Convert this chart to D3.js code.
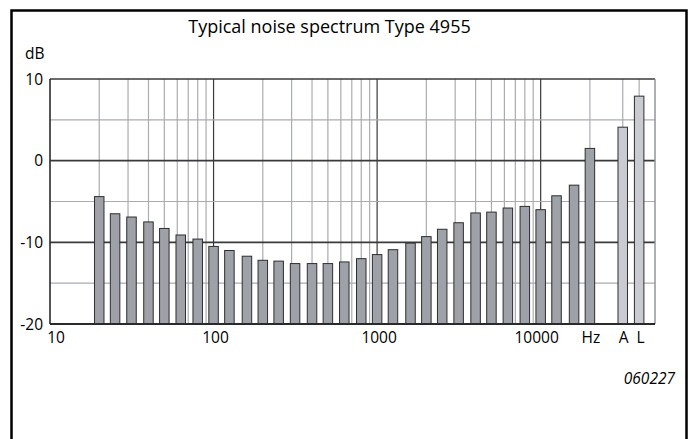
<!DOCTYPE html>
<html>
<head>
<meta charset="utf-8">
<script src="https://cdn.jsdelivr.net/npm/d3@7"></script>
<style>
  body { margin: 0; background: #fff; }
  svg { display: block; font-family: "Open Sans", "DejaVu Sans", sans-serif; }
</style>
</head>
<body>
<svg id="chart"></svg>
<script>
// 1/3 octave band centres (Hz) and noise level (dB)
const bands = [20, 25, 31.5, 40, 50, 63, 80, 100, 125, 160, 200, 250, 315, 400, 500, 630, 800,
               1000, 1250, 1600, 2000, 2500, 3150, 4000, 5000, 6300, 8000, 10000, 12500, 16000, 20000];
const levels = [-4.4, -6.5, -6.9, -7.5, -8.3, -9.1, -9.6, -10.5, -11.0, -11.7, -12.2, -12.3, -12.6, -12.6, -12.6, -12.4, -12.0,
                -11.5, -10.9, -10.1, -9.3, -8.4, -7.6, -6.4, -6.3, -5.8, -5.6, -6.0, -4.3, -3.0, 1.5];
// broadband values
const broadLabels = ["A", "L"];
const broadLevels = [4.1, 7.9];

const yTicks = [-20, -15, -10, -5, 0, 5, 10];
const yLabels = [-20, -10, 0, 10];
const xLabels = [10, 100, 1000, 10000];

const W = 693, H = 439;
const margin = { top: 79, left: 50, right: 38, bottom: 115 };
const width = W - margin.left - margin.right;
const height = H - margin.top - margin.bottom;

const svg = d3.select("#chart").attr("width", W).attr("height", H);

// outer frame
svg.append("rect")
    .attr("x", 11.5).attr("y", 10.5)
    .attr("width", 675).attr("height", 460)
    .attr("fill", "none").attr("stroke", "#000").attr("stroke-width", 2.5);

svg.append("text")
    .attr("x", 329.5).attr("y", 33)
    .attr("text-anchor", "middle")
    .attr("font-size", "18px")
    .text("Typical noise spectrum Type 4955");

const chart = svg.append("g")
    .attr("transform", `translate(${margin.left},${margin.top})`);

const x = d3.scaleLog().domain([10, 50000]).range([0, width]);
const y = d3.scaleLinear().domain([-20, 10]).range([height, 0]);

// A and L sit in the 2nd and 3rd third-octave slot after the last band
const broadFreq = broadLabels.map((d, i) => 20000 * Math.pow(2, (i + 2) / 3));

// vertical grid
const minor = [];
[10, 100, 1000].forEach(dec => { for (let k = 2; k <= 9; k++) minor.push(dec * k); });
minor.push(20000);
const gridX = minor.concat(broadFreq);

chart.selectAll(".vgrid")
    .data(gridX)
    .enter().append("line")
    .attr("x1", d => x(d)).attr("x2", d => x(d))
    .attr("y1", 0).attr("y2", height)
    .attr("stroke", "#a9acb0").attr("stroke-width", 1.2);

chart.selectAll(".vmajor")
    .data([100, 1000, 10000])
    .enter().append("line")
    .attr("x1", d => x(d)).attr("x2", d => x(d))
    .attr("y1", 0).attr("y2", height)
    .attr("stroke", "#3a3a3a").attr("stroke-width", 1.2);

// horizontal grid
chart.selectAll(".hgrid")
    .data(yTicks)
    .enter().append("line")
    .attr("x1", 0).attr("x2", width)
    .attr("y1", d => y(d)).attr("y2", d => y(d))
    .attr("stroke", d => d % 10 === 0 ? "#3a3a3a" : "#a9acb0")
    .attr("stroke-width", d => d % 10 === 0 ? 1.6 : 1.2);

// right plot border
chart.append("line")
    .attr("x1", width).attr("x2", width).attr("y1", 0).attr("y2", height)
    .attr("stroke", "#8a8d91").attr("stroke-width", 1.4);
// left plot border
chart.append("line")
    .attr("x1", 0).attr("x2", 0).attr("y1", 0).attr("y2", height)
    .attr("stroke", "#2a2a2a").attr("stroke-width", 1.6);

const barW = 9.5;

chart.selectAll(".bar")
    .data(bands.map((f, i) => ({ f: f, v: levels[i] })))
    .enter().append("rect")
    .attr("x", d => x(d.f) - barW / 2)
    .attr("y", d => y(d.v))
    .attr("width", barW)
    .attr("height", d => y(-20) - y(d.v))
    .attr("fill", "#9ea1a7")
    .attr("stroke", "#2e2e2e").attr("stroke-width", 1);

chart.selectAll(".broad")
    .data(broadLevels.map((v, i) => ({ f: broadFreq[i], v: v })))
    .enter().append("rect")
    .attr("x", d => x(d.f) - barW / 2)
    .attr("y", d => y(d.v))
    .attr("width", barW)
    .attr("height", d => y(-20) - y(d.v))
    .attr("fill", "#c9cbd1")
    .attr("stroke", "#2e2e2e").attr("stroke-width", 1);

// bottom axis line
chart.append("line")
    .attr("x1", 0).attr("x2", width).attr("y1", height).attr("y2", height)
    .attr("stroke", "#2a2a2a").attr("stroke-width", 1.8);

// y labels
chart.selectAll(".ylab")
    .data(yLabels)
    .enter().append("text")
    .attr("x", -7).attr("y", d => y(d) + 5.5)
    .attr("text-anchor", "end")
    .attr("font-size", "15.5px")
    .text(d => d);

svg.append("text")
    .attr("x", 25).attr("y", 59)
    .attr("font-size", "15.5px")
    .text("dB");

// x labels
const xShift = { 10: 6, 100: 2, 1000: 2, 10000: -4 };
chart.selectAll(".xlab")
    .data(xLabels)
    .enter().append("text")
    .attr("x", d => x(d) + xShift[d])
    .attr("y", height + 19)
    .attr("text-anchor", "middle")
    .attr("font-size", "15.5px")
    .text(d => d);

chart.append("text")
    .attr("x", x(20000) + 1).attr("y", height + 19)
    .attr("text-anchor", "middle").attr("font-size", "15.5px")
    .text("Hz");

chart.selectAll(".blab")
    .data(broadLabels)
    .enter().append("text")
    .attr("x", (d, i) => x(broadFreq[i]) + (i === 0 ? 1 : 1.5))
    .attr("y", height + 19)
    .attr("text-anchor", "middle").attr("font-size", "15.5px")
    .text(d => d);

svg.append("text")
    .attr("x", 675).attr("y", 384)
    .attr("text-anchor", "end")
    .attr("font-size", "15.5px")
    .attr("font-style", "italic")
    .text("060227");
</script>
</body>
</html>
